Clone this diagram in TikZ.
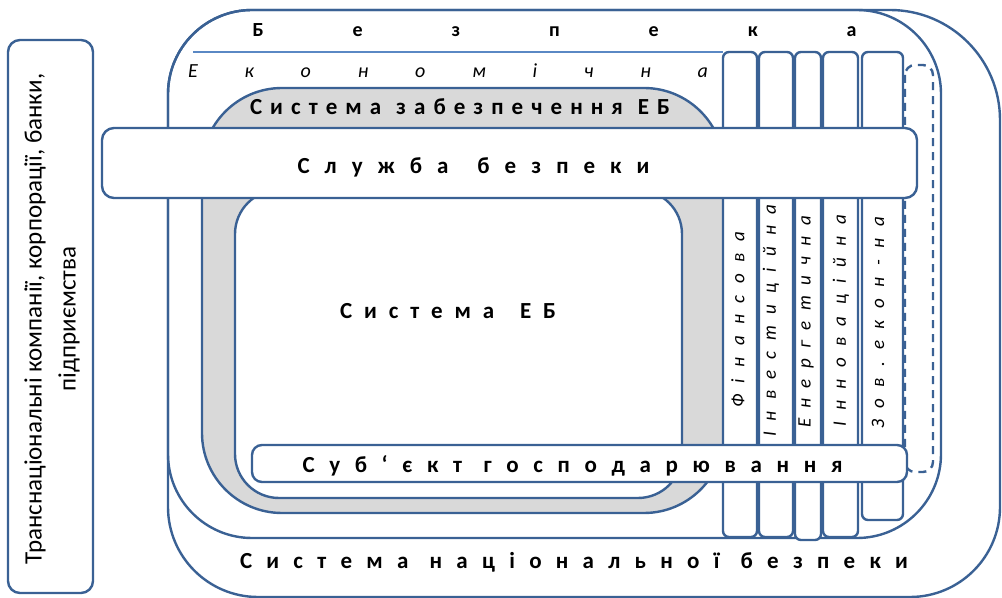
\documentclass[tikz,border=0pt]{standalone}
\usepackage{fontspec}
\setmainfont{Carlito}
\frenchspacing
\definecolor{lineblue}{HTML}{3A6194}
\definecolor{paleblue}{HTML}{5A88C4}
\definecolor{ringgray}{HTML}{D9D9D9}
\newcommand\spread[2]{\makebox[#1][s]{#2}}
\newcommand\wgap{\hspace{.3em}}

\begin{document}
\begin{tikzpicture}[x=0.5pt, y=-0.5pt,
  blueline/.style={draw=lineblue, line width=1.2pt},
  bigtext/.style={font=\bfseries\fontsize{11.5}{13}\selectfont, inner sep=0pt, anchor=base},
  midtext/.style={font=\bfseries\fontsize{10}{12}\selectfont, inner sep=0pt, anchor=base},
  coltext/.style={font=\itshape\fontsize{9.5}{11}\selectfont, inner sep=0pt}]
\useasboundingbox (0,0) rectangle (1002,598);
\fill[white] (0,0) rectangle (1002,598);
% national security system
\draw[blueline] (168,300) -- (168,94) arc[start angle=180, end angle=90, radius=42pt]
  -- (890,10) arc[start angle=90, end angle=0, radius=55pt]
  -- (1000,507) arc[start angle=0, end angle=-90, radius=45pt]
  -- (258,597) arc[start angle=270, end angle=180, radius=45pt] -- cycle;
% security
\draw[blueline, rounded corners=42pt] (168,10) rectangle (941,538);
\draw[draw=paleblue, line width=1.2pt] (193,52) -- (723,52);
% EB support system and EB system
\draw[blueline, fill=ringgray, rounded corners=40pt] (202,88) rectangle (724,513);
\draw[blueline, fill=white, rounded corners=22pt] (235,190) rectangle (682,498);
% kinds of economic security
\foreach \xl/\xr/\yb in {723/757/537, 759/793/537, 795/821/540, 823/858/537, 862/903/520}
  \draw[blueline, fill=white, rounded corners=3pt] (\xl,52) rectangle (\xr,\yb);
\draw[blueline, dash pattern=on 4pt off 3pt, rounded corners=5pt] (905,65) rectangle (933,472);
% boxes on top
\draw[blueline, fill=white, rounded corners=6pt] (102,128) rectangle (917,198);
\draw[blueline, fill=white, rounded corners=5pt] (252,445) rectangle (907,482);
\draw[blueline, rounded corners=6pt] (8,40) rectangle (93,593);

\node[midtext] (bezpeka) at (554.5,37) {\spread{302pt}{Б е з п е к а}};
\node[midtext, font=\itshape\fontsize{10}{12}\selectfont] (ekon) at (448,78)
  {\spread{260pt}{Е к о н о м і ч н а}};
\node[bigtext] (szeb) at (460,115)
  {\spread{210pt}{С и с т е м а \wgap з а б е з п е ч е н н я \wgap Е Б}};
\node[bigtext] (sluzhba) at (473.5,174)
  {\spread{176pt}{С л у ж б а \wgap\wgap б е з п е к и}};
\node[bigtext] (seb) at (448,319)
  {\spread{108pt}{С и с т е м а \wgap\wgap Е Б}};
\node[bigtext] (subj) at (572.5,473)
  {\spread{270pt}{С у б ‘ є к т \wgap г о с п о д а р ю в а н н я}};
\node[bigtext] (snb) at (574,568)
  {\spread{334pt}{С и с т е м а \wgap н а ц і о н а л ь н о ї \wgap б е з п е к и}};

\node[coltext, rotate=90] (fin) at (738,320) {\spread{88pt}{Ф і н а н с о в а}};
\node[coltext, rotate=90] (inv) at (771,321) {\spread{116pt}{І н в е с т и ц і й н а}};
\node[coltext, rotate=90] (ener) at (806,322) {\spread{106pt}{Е н е р г е т и ч н а}};
\node[coltext, rotate=90] (innov) at (841,321) {\spread{106pt}{І н н о в а ц і й н а}};
\node[coltext, rotate=90] (zovn) at (878,323) {\spread{106pt}{З о в . е к о н - н а}};

\node[rotate=90, align=center, font=\fontsize{12.5}{17}\selectfont, inner sep=0pt] (tnk) at (52,319)
  {Транснаціональні компанії, корпорації, банки,\\підприємства};
\end{tikzpicture}
\end{document}
